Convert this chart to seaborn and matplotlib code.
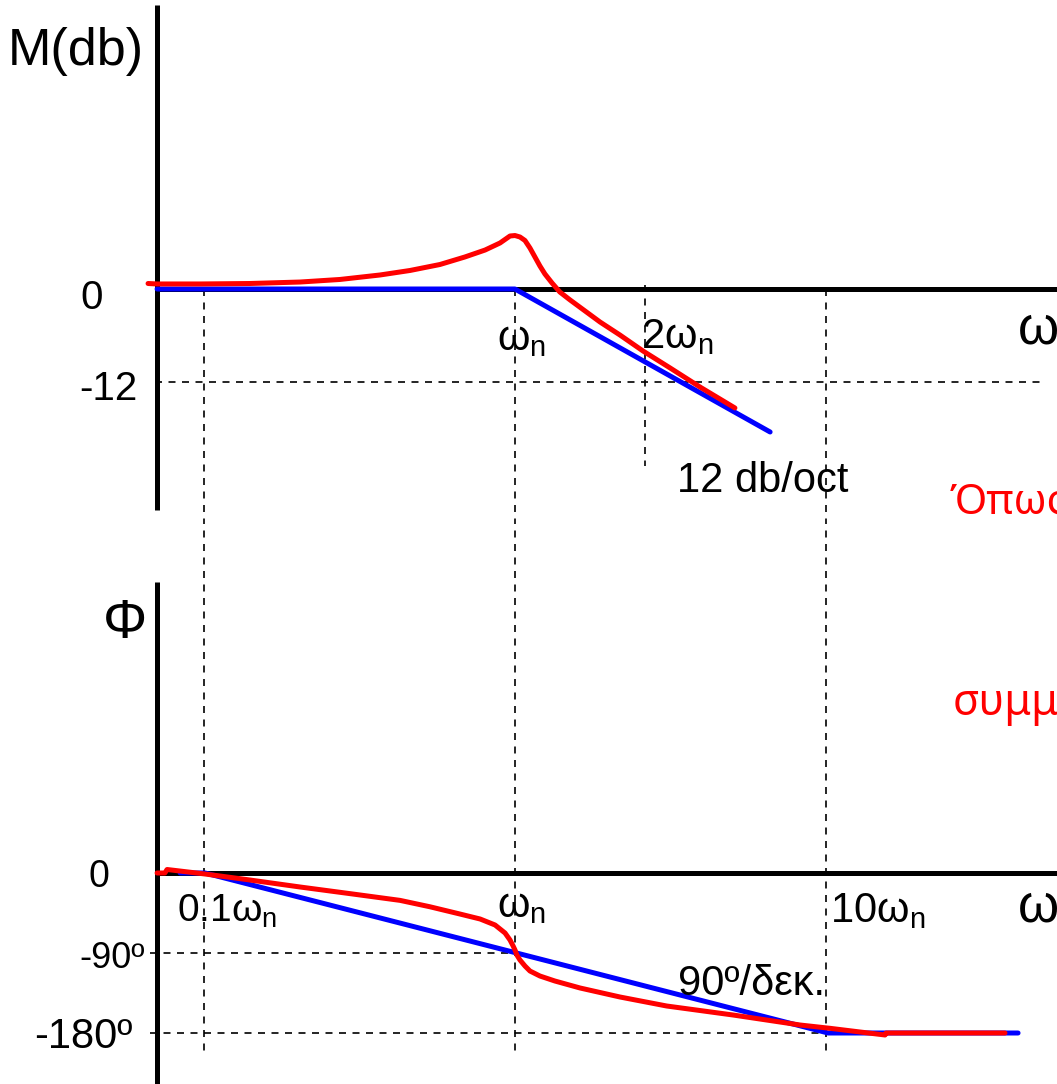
import matplotlib
matplotlib.use("Agg")
import matplotlib.pyplot as plt
import seaborn as sns

# ---------------- data (x in decades: log10(w/wn)) ----------------
# magnitude, asymptotic (blue)
mag_asym_u = [-1.149, 0.0, 0.819]
mag_asym_db = [0.0, 0.0, -18.45]
# magnitude, actual (red)
mag_act_u = [-1.178, -1.149, -1.011, -0.851, -0.690, -0.562, -0.433, -0.337, -0.241,
             -0.161, -0.096, -0.048, -0.032, -0.016, 0.0, 0.016, 0.032, 0.048, 0.064,
             0.080, 0.096, 0.119, 0.144, 0.177, 0.225, 0.273, 0.337, 0.411, 0.498,
             0.594, 0.706]
mag_act_db = [0.71, 0.65, 0.65, 0.71, 0.90, 1.23, 1.81, 2.39, 3.16,
              4.13, 5.03, 5.94, 6.39, 6.84, 6.90, 6.71, 6.26, 5.29, 4.13,
              2.97, 1.94, 0.77, -0.39, -1.42, -2.84, -4.26, -5.94, -8.00, -10.19,
              -12.65, -15.35]
# phase, asymptotic (blue)
ph_asym_u = [-1.075, -0.995, 1.005, 1.615]
ph_asym_deg = [0.0, 0.0, -180.0, -180.0]
# phase, actual (red)
ph_act_u = [-1.149, -1.124, -1.117, -0.995, -0.851, -0.690, -0.530, -0.369, -0.273,
            -0.177, -0.112, -0.064, -0.032, -0.016, -0.006, 0.0, 0.006, 0.016, 0.032,
            0.048, 0.080, 0.128, 0.209, 0.337, 0.487, 0.700, 0.915, 1.011, 1.108,
            1.188, 1.191, 1.573]
ph_act_deg = [0.0, 0.0, 3.94, -1.13, -7.88, -15.75, -23.2, -30.8, -38.0,
              -46.13, -51.75, -58.5, -67.5, -75.38, -82.13, -86.63, -92.25, -97.88, -104.63,
              -110.25, -115.88, -121.5, -129.38, -139.5, -149.63, -159.75, -171.0, -174.71, -178.88,
              -182.25, -180.0, -180.0]

mag_ticks = [0, -12]
mag_tick_labels = ["0", "-12"]
ph_ticks = [0, -90, -180]
ph_tick_labels = ["0", "-90º", "-180º"]
freq_marks = [-1.0, 0.0, 1.0]              # 0.1wn, wn, 10wn
freq_mark_labels = ["0.1ω$_\\mathrm{n}$", "ω$_\\mathrm{n}$", "10ω$_\\mathrm{n}$"]
two_wn = 0.417                              # position of 2wn mark as drawn

# ---------------- style ----------------
sns.set_theme(style="white")
plt.rcParams["font.family"] = ["Liberation Sans", "DejaVu Sans"]
plt.rcParams["text.color"] = "black"
plt.rcParams["mathtext.fontset"] = "custom"
plt.rcParams["mathtext.rm"] = "Liberation Sans"
plt.rcParams["mathtext.it"] = "Liberation Sans:italic"
plt.rcParams["mathtext.bf"] = "Liberation Sans:bold"
plt.rcParams["lines.solid_joinstyle"] = "round"

BLUE = "#0000FF"
RED = "#FF0000"
LW = 3.6
XMIN, XMAX = -1.6533, 1.7400
AX_X = -1.1493  # vertical axis position

fig = plt.figure(figsize=(10.57, 10.84), dpi=100)
ax_m = fig.add_axes([0, 564 / 1084, 1, 520 / 1084])
ax_p = fig.add_axes([0, 0, 1, 564 / 1084])
for ax in (ax_m, ax_p):
    ax.set_xlim(XMIN, XMAX)
    ax.axis("off")
ax_m.set_ylim(-29.806, 37.290)
ax_p.set_ylim(-237.375, 397.125)

dash = dict(color="black", lw=1.2, linestyle=(0, (4.2, 3.9)), zorder=1)
axis_kw = dict(color="black", lw=LW, solid_capstyle="butt", zorder=2)

# ---------------- magnitude panel ----------------
for fm in freq_marks:
    ax_m.plot([fm, fm], [0, -40], **dash)
ax_m.plot([two_wn, two_wn], [0.5, -22.8], **dash)
ax_m.plot([-1.1557, 1.6982], [mag_ticks[1], mag_ticks[1]], **dash)

ax_m.plot([AX_X, AX_X], [36.65, -28.52], **axis_kw)
ax_m.plot([AX_X, 1.8], [0, 0], **axis_kw)

sns.lineplot(x=mag_asym_u, y=mag_asym_db, ax=ax_m, color=BLUE, linewidth=LW,
             sort=False, estimator=None, zorder=3)
sns.lineplot(x=mag_act_u, y=mag_act_db, ax=ax_m, color=RED, linewidth=LW,
             sort=False, estimator=None, zorder=4)

ax_m.text(-1.6276, 28.90, "M(db)", fontsize=37.5, ha="left", va="baseline")
ax_m.text(-1.3589, -2.58, mag_tick_labels[0], fontsize=29, ha="center", va="baseline")
ax_m.text(-1.2103, -14.32, mag_tick_labels[1], fontsize=29, ha="right", va="baseline")
ax_m.text(-0.0578, -7.87, freq_mark_labels[1], fontsize=30, ha="left", va="baseline")
ax_m.text(0.4045, -7.61, "2ω$_\\mathrm{n}$", fontsize=30, ha="left", va="baseline")
ax_m.text(0.5201, -26.15, "12 db/oct", fontsize=30, ha="left", va="baseline")
ax_m.text(1.6148, -6.97, "ω", fontsize=38, ha="left", va="baseline")
ax_m.text(1.3965, -28.9, "Όπως", fontsize=30, ha="left", va="baseline",
          color=RED, family=["Noto Sans", "DejaVu Sans"])

# ---------------- phase panel ----------------
for fm in freq_marks:
    ax_p.plot([fm, fm], [400, -204.75], **dash)
ax_p.plot([-1.1717, 0.0], [ph_ticks[1], ph_ticks[1]], **dash)
ax_p.plot([-1.1717, 1.0048], [ph_ticks[2], ph_ticks[2]], **dash)

ax_p.plot([AX_X, AX_X], [327.4, -245], **axis_kw)
ax_p.plot([AX_X, 1.8], [0, 0], **axis_kw)

sns.lineplot(x=ph_asym_u, y=ph_asym_deg, ax=ax_p, color=BLUE, linewidth=LW,
             sort=False, estimator=None, zorder=3)
sns.lineplot(x=ph_act_u, y=ph_act_deg, ax=ax_p, color=RED, linewidth=LW,
             sort=False, estimator=None, zorder=4)

ax_p.text(-1.2520, 279.6, "Φ", fontsize=40, ha="center", va="center")
ax_p.text(-1.3355, -15.75, ph_tick_labels[0], fontsize=27, ha="center", va="baseline")
ax_p.text(-1.1878, -106.9, ph_tick_labels[1], fontsize=26, ha="right", va="baseline")
ax_p.text(-1.2295, -196.9, ph_tick_labels[2], fontsize=30, ha="right", va="baseline")
ax_p.text(-1.0851, -54.8, freq_mark_labels[0], fontsize=28, ha="left", va="baseline")
ax_p.text(-0.0578, -49.5, freq_mark_labels[1], fontsize=30, ha="left", va="baseline")
ax_p.text(1.0112, -54.8, freq_mark_labels[2], fontsize=30, ha="left", va="baseline")
ax_p.text(1.6148, -54.0, "ω", fontsize=38, ha="left", va="baseline")
ax_p.text(0.5233, -137.25, "90º/δεκ.", fontsize=30, ha="left", va="baseline")
ax_p.text(1.4061, 177.75, "συμμ", fontsize=31, ha="left", va="baseline",
          color=RED, family=["Noto Sans", "DejaVu Sans"])

fig.savefig("out.png", dpi=100)
